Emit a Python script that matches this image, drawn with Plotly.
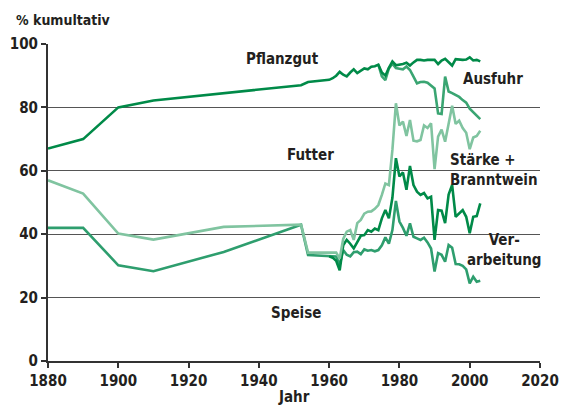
import plotly.graph_objects as go

# ---- data (cumulative %) ----
years_early = [1880, 1890, 1900, 1910, 1930, 1952, 1954]
years_mod = list(range(1960, 2004))

# Line 1: Pflanzgut lower boundary
pflanz_early_x = [1880, 1890, 1900, 1910, 1952, 1954]
pflanz_early_y = [67.0, 70.0, 80.0, 82.2, 87.0, 88.0]
pflanz_mod = [88.7, 89.2, 90.0, 91.2, 90.3, 89.8, 91.0, 92.0, 90.8, 91.5,
              92.3, 92.0, 92.8, 93.0, 93.5, 91.0, 90.0, 92.5, 94.5, 93.3,
              93.4, 93.7, 94.1, 93.2, 94.2, 95.0, 95.0, 94.8, 95.0, 95.1,
              95.0, 93.7, 94.8, 95.3, 94.3, 93.2, 95.2, 95.0, 95.0, 95.1,
              95.8, 94.8, 95.0, 94.5]

# Line 2: Ausfuhr lower boundary
ausfuhr_years = list(range(1974, 2004))
ausfuhr_mod = [93.5, 89.8, 88.6, 92.3, 93.8, 92.4,
               92.2, 92.0, 92.9, 91.8, 89.7, 87.6, 88.0, 88.1, 87.8, 86.8,
               86.0, 78.1, 77.9, 89.7, 85.0, 84.5, 84.0, 83.3, 82.3, 81.5,
               79.6, 78.6, 77.3, 76.3]

# Line 3: Futter lower boundary
futter_early = [57.0, 52.8, 40.2, 38.3, 42.3, 43.0, 34.2]
futter_mod = [34.2, 34.2, 34.2, 32.3, 38.5, 40.8, 41.3, 38.2, 43.5, 44.5,
              46.5, 47.1, 47.2, 48.0, 49.2, 52.4, 56.0, 55.5, 66.6, 81.3,
              74.3, 75.5, 71.0, 76.0, 69.5, 69.3, 69.7, 74.3, 73.5, 75.0,
              60.5, 70.8, 73.0, 69.2, 75.5, 80.5, 74.8, 75.8, 73.5, 72.0,
              66.8, 70.5, 71.0, 72.6]

# Line 4: Stärke + Branntwein lower boundary
staerke_mod = [33.0, 32.6, 31.6, 28.6, 36.5, 38.2, 37.0, 35.5, 37.5, 39.5,
               39.7, 41.3, 40.8, 41.8, 41.3, 45.0, 47.6, 45.0, 51.5, 64.0,
               58.2, 59.5, 54.0, 61.5, 55.5, 53.4, 52.4, 53.0, 51.3, 51.8,
               38.2, 47.6, 47.4, 43.5, 52.5, 55.5, 45.5, 46.5, 47.6, 45.5,
               40.3, 45.5, 45.7, 49.7]

# Line 5: Verarbeitung lower boundary (Speise upper)
verarb_early = [42.0, 42.0, 30.2, 28.3, 34.4, 43.0, 33.4]
verarb_mod = [33.2, 33.2, 33.0, 30.3, 35.0, 33.5, 33.0, 34.3, 34.5, 33.7,
              35.2, 34.8, 35.0, 34.6, 35.0, 36.5, 39.0, 37.0, 41.3, 50.5,
              44.0, 42.0, 39.5, 43.4, 39.2, 38.7, 38.2, 38.9, 37.4, 35.5,
              28.2, 34.0, 33.5, 31.3, 36.6, 35.7, 30.6, 30.5, 30.0, 28.9,
              24.5, 26.6, 25.0, 25.3]

x_ticks = [1880, 1900, 1920, 1940, 1960, 1980, 2000, 2020]
y_ticks = [0, 20, 40, 60, 80, 100]

DARK = "#008a48"
MED = "#2e9e6e"
MED2 = "#3aa572"
LIGHT = "#80c4a0"
TXT = "#231f20"
FONT = "DejaVu Sans Condensed, Liberation Sans Narrow, sans-serif"


def bfont(size=15):
    return dict(family=FONT, size=size, color=TXT, weight="bold")


fig = go.Figure()


def add_line(x, y, color):
    fig.add_trace(go.Scatter(x=x, y=y, mode="lines",
                             line=dict(color=color, width=2.6),
                             hoverinfo="skip", showlegend=False))


add_line(years_early + years_mod, verarb_early + verarb_mod, MED)
add_line(years_mod, staerke_mod, DARK)
add_line(years_early + years_mod, futter_early + futter_mod, LIGHT)
add_line(ausfuhr_years, ausfuhr_mod, MED2)
add_line(pflanz_early_x + years_mod, pflanz_early_y + pflanz_mod, DARK)

labels = [
    ("Pflanzgut", 1946.8, 95.2, "center", "center"),
    ("Ausfuhr", 2006.5, 89.0, "center", "center"),
    ("Futter", 1954.6, 65.0, "center", "center"),
    ("Stärke +<br>Branntwein", 1993.8, 60.1, "left", "left"),
    ("Ver-<br>arbeitung", 2010.0, 35.0, "center", "center"),
    ("Speise", 1950.5, 15.0, "center", "center"),
]
for txt, xx, yy, al, xa in labels:
    fig.add_annotation(x=xx, y=yy, text=txt, showarrow=False, align=al,
                       xanchor=xa, yanchor="middle", font=bfont(15))

# page body has an 8px margin: figure is offset by 8px
W, H = 562, 397
L, T, R, B = 40, 36, 30, 44
ph = H - T - B

fig.add_annotation(xref="paper", yref="paper", x=(6 - L) / (W - L - R),
                   y=(H - B - 12) / ph,
                   text="% kumultativ", showarrow=False, xanchor="left",
                   yanchor="middle", font=bfont(14))
fig.add_annotation(xref="paper", yref="paper", x=(286 - L) / (W - L - R),
                   y=-(388.5 - (H - B)) / ph,
                   text="Jahr", showarrow=False, xanchor="center",
                   yanchor="middle", font=bfont(15))

fig.update_layout(
    width=W, height=H,
    margin=dict(l=L, r=R, t=T, b=B, autoexpand=False),
    paper_bgcolor="white", plot_bgcolor="white",
    font=dict(family=FONT, size=15, color=TXT),
    xaxis=dict(range=[1880, 2020], tickvals=x_ticks, showgrid=False,
               showline=True, linecolor="#333333", linewidth=2,
               ticks="outside", ticklen=5, tickwidth=1.5, tickcolor="#333333",
               tickfont=bfont(15), automargin=False,
               zeroline=False, fixedrange=True),
    yaxis=dict(range=[0, 100], tickvals=y_ticks, showgrid=True,
               gridcolor="#555555", gridwidth=1.4,
               showline=True, linecolor="#333333", linewidth=2,
               ticks="outside", ticklen=5, tickwidth=1.5, tickcolor="#333333",
               tickfont=bfont(15), automargin=False,
               zeroline=False, fixedrange=True),
)

fig.write_html("out.html")
